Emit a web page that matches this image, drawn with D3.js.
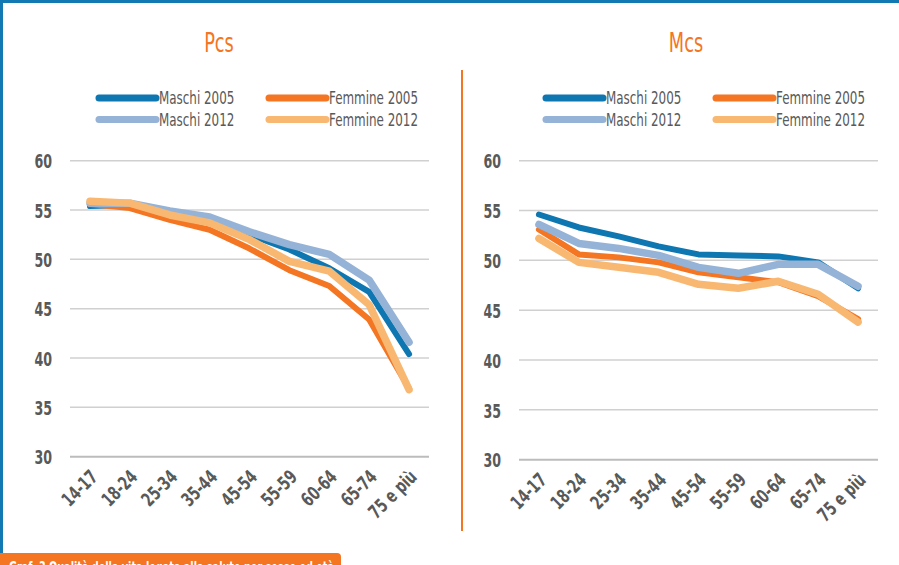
<!DOCTYPE html>
<html>
<head>
<meta charset="utf-8">
<script src="https://cdn.jsdelivr.net/npm/d3@7"></script>
<style>
  body { margin: 0; background: #fff; overflow: hidden; }
  svg { display: block; }
  text { font-family: "DejaVu Sans Condensed", "DejaVu Sans", sans-serif; font-stretch: condensed; }
</style>
</head>
<body>
<svg id="chart" width="899" height="565"></svg>
<script>
// age groups on the x axis
var ageGroups = ["14-17", "18-24", "25-34", "35-44", "45-54", "55-59", "60-64", "65-74", "75 e più"];
var yTicks = [30, 35, 40, 45, 50, 55, 60];
var seriesNames = ["Maschi 2005", "Femmine 2005", "Maschi 2012", "Femmine 2012"];
var seriesColors = ["#0e77b1", "#f47522", "#95b3d7", "#f8b872"];

// Pcs (physical component)
var pcsMaschi2005 = [55.4, 55.5, 54.6, 53.9, 52.5, 51.0, 49.1, 46.7, 40.4];
var pcsFemmine2005 = [55.6, 55.2, 54.0, 53.0, 51.1, 48.9, 47.3, 43.9, 36.9];
var pcsMaschi2012 = [55.7, 55.7, 54.9, 54.3, 52.8, 51.5, 50.5, 47.9, 41.6];
var pcsFemmine2012 = [55.9, 55.7, 54.5, 53.7, 52.0, 49.8, 48.8, 45.4, 36.8];

// Mcs (mental component)
var mcsMaschi2005 = [54.6, 53.3, 52.4, 51.4, 50.6, 50.5, 50.4, 49.8, 47.2];
var mcsFemmine2005 = [53.1, 50.6, 50.3, 49.8, 48.8, 48.3, 47.8, 46.4, 44.1];
var mcsMaschi2012 = [53.6, 51.7, 51.2, 50.5, 49.3, 48.7, 49.6, 49.6, 47.4];
var mcsFemmine2012 = [52.2, 49.8, 49.3, 48.8, 47.6, 47.2, 47.9, 46.6, 43.8];

var svg = d3.select("#chart");

// frame
svg.append("line").attr("x1", 0).attr("x2", 899).attr("y1", 1.5).attr("y2", 1.5)
  .attr("stroke", "#1379b3").attr("stroke-width", 3);
svg.append("line").attr("x1", 1.5).attr("x2", 1.5).attr("y1", 0).attr("y2", 553)
  .attr("stroke", "#1379b3").attr("stroke-width", 3);
// divider
svg.append("line").attr("x1", 462).attr("x2", 462).attr("y1", 70).attr("y2", 531)
  .attr("stroke", "#f47522").attr("stroke-width", 2);
// caption box at bottom (cut by the window)
svg.append("path")
  .attr("d", "M0,553 H337 Q341,553 341,557 V575 H0 Z")
  .attr("fill", "#f47522");
svg.append("text")
  .attr("x", 9).attr("y", 573)
  .attr("textLength", 325).attr("lengthAdjust", "spacingAndGlyphs")
  .attr("fill", "#fff").attr("font-size", "15px").attr("font-weight", "bold")
  .text("Graf. 3 Qualità della vita legata alla salute per sesso ed età");

var panels = [
  { title: "Pcs", cx: 219, x0: 70, x1: 429, yTop: 160.7, yBot: 456.7, legX: 99,
    series: [pcsMaschi2005, pcsFemmine2005, pcsMaschi2012, pcsFemmine2012] },
  { title: "Mcs", cx: 686, x0: 519, x1: 878, yTop: 160.7, yBot: 459.7, legX: 546,
    series: [mcsMaschi2005, mcsFemmine2005, mcsMaschi2012, mcsFemmine2012] }
];

var lineWidths = [6, 6, 7.5, 7.5];

panels.forEach(function (p) {
  var g = svg.append("g");
  var x = d3.scalePoint().domain(ageGroups).range([p.x0, p.x1]).padding(0.5);
  var y = d3.scaleLinear().domain([30, 60]).range([p.yBot, p.yTop]);

  g.append("text")
    .attr("transform", "translate(" + p.cx + ",52) scale(0.76,1)")
    .attr("text-anchor", "middle")
    .attr("fill", "#f47522").attr("font-size", "26px")
    .text(p.title);

  // gridlines
  g.selectAll("line.grid")
    .data(yTicks)
    .enter()
    .append("line")
    .attr("class", "grid")
    .attr("x1", p.x0).attr("x2", p.x1)
    .attr("y1", function (d) { return y(d) }).attr("y2", function (d) { return y(d) })
    .attr("stroke", function (d) { return d == 30 ? "#bcbcbc" : "#d0d0d0" })
    .attr("stroke-width", function (d) { return d == 30 ? 2 : 1.5 });

  // y axis, drawn with d3 then stripped of domain and ticks
  var yAxis = g.append("g")
    .attr("transform", "translate(" + (p.x0 - 18) + ",0)")
    .call(d3.axisLeft(y).tickValues(yTicks).tickSize(0).tickPadding(0));
  yAxis.select(".domain").remove();
  yAxis.selectAll("text")
    .attr("x", 0)
    .attr("fill", "#595959").attr("font-size", "19px").attr("font-weight", "bold")
    .attr("dy", "0.38em")
    .attr("transform", "scale(0.74,1)");

  // x axis labels, rotated
  var xAxis = g.append("g")
    .attr("transform", "translate(0," + (p.yBot + 12) + ")")
    .call(d3.axisBottom(x).tickSize(0).tickPadding(0));
  xAxis.select(".domain").remove();
  xAxis.selectAll("text")
    .attr("y", 0)
    .attr("fill", "#595959").attr("font-size", "19px").attr("font-weight", "bold")
    .attr("text-anchor", "end")
    .attr("dy", "0.7em")
    .attr("transform", "translate(-1,0) rotate(-45) scale(0.76,1)");

  // lines
  var line = d3.line()
    .x(function (d, i) { return x(ageGroups[i]) })
    .y(function (d) { return y(d) });
  g.selectAll("path.series")
    .data(p.series)
    .enter()
    .append("path")
    .attr("class", "series")
    .attr("d", line)
    .attr("fill", "none")
    .attr("stroke", function (d, i) { return seriesColors[i] })
    .attr("stroke-width", function (d, i) { return lineWidths[i] })
    .attr("stroke-linejoin", "round")
    .attr("stroke-linecap", "round");

  // legend, two columns
  var leg = g.selectAll("g.leg")
    .data(seriesNames)
    .enter()
    .append("g")
    .attr("class", "leg")
    .attr("transform", function (d, i) {
      return "translate(" + (p.legX + (i % 2) * 170) + "," + (98 + Math.floor(i / 2) * 21.5) + ")"
    });
  leg.append("line")
    .attr("x1", 0).attr("x2", 57)
    .attr("stroke", function (d, i) { return seriesColors[i] })
    .attr("stroke-width", 7)
    .attr("stroke-linecap", "round");
  leg.append("text")
    .attr("transform", "translate(60,0) scale(0.78,1)")
    .attr("dy", "0.36em")
    .attr("fill", "#595959").attr("font-size", "17px")
    .text(function (d) { return d });
});
</script>
</body>
</html>
